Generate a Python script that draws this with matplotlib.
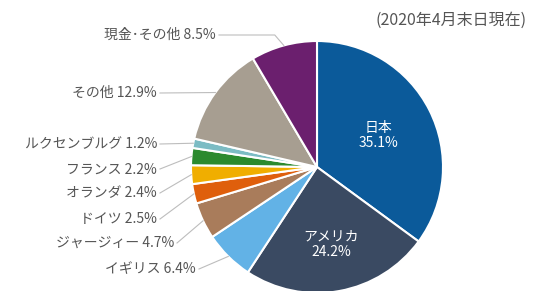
import numpy as np
import matplotlib.pyplot as plt

plt.rcParams['font.family'] = ['Noto Sans CJK JP', 'DejaVu Sans']

# data (clockwise from 12 o'clock)
countries = ['日本', 'アメリカ', 'イギリス', 'ジャージィー', 'ドイツ', 'オランダ',
             'フランス', 'ルクセンブルグ', 'その他', '現金･その他']
shares = [35.1, 24.2, 6.4, 4.7, 2.5, 2.4, 2.2, 1.2, 12.9, 8.5]
colors = ['#0b5a9a', '#3a4a62', '#62b2e6', '#a97c5b', '#df5f0c', '#f0ae00',
          '#2b8a2e', '#7cbcc4', '#a79e91', '#6b1f6e']
date_note = '(2020年4月末日現在)'

W, H = 536, 291
fig = plt.figure(figsize=(W / 100, H / 100), dpi=100)
ax = fig.add_axes([0, 0, 1, 1])

cx, cy, r = 317, H - 167, 126
wedges, _ = ax.pie(shares, colors=colors, startangle=90, counterclock=False,
                   center=(cx, cy), radius=r, frame=True,
                   wedgeprops=dict(edgecolor='white', linewidth=1.5))
ax.set_xlim(0, W)
ax.set_ylim(0, H)
ax.set_aspect('equal')
ax.axis('off')

def mid_angle(w):
    return np.deg2rad((w.theta1 + w.theta2) / 2)

# inside labels for the two big slices
for i, f in ((0, 0.55), (1, 0.62)):
    a = mid_angle(wedges[i])
    x, y = cx + f * r * np.cos(a), cy + f * r * np.sin(a)
    ax.text(x, y, f'{countries[i]}\n{shares[i]}%', color='white', fontsize=10,
            ha='center', va='center', linespacing=1.15)

# outside labels: (right end x, y) in pixels from the top
label_pos = {2: (196, 269), 3: (174, 243), 4: (157, 219), 5: (157, 193),
             6: (157, 169), 7: (157, 144), 8: (157, 93), 9: (216, 35)}
for i, (tx, ty) in label_pos.items():
    ty = H - ty
    ax.text(tx, ty, f'{countries[i]} {shares[i]}%', color='#555555', fontsize=10,
            ha='right', va='center')
    a = mid_angle(wedges[i])
    rx, ry = cx + r * np.cos(a), cy + r * np.sin(a)
    if i == 9:
        xs, ys = [tx + 3, rx - 9, rx], [ty, ty, ry]
    else:
        xs, ys = [tx + 3, rx], [ty, ry]
    ax.plot(xs, ys, color='#bdbdbd', lw=0.8)

ax.text(527, H - 20, date_note, color='#555555', fontsize=11.5, ha='right', va='center')

fig.savefig('out.png', dpi=100)
